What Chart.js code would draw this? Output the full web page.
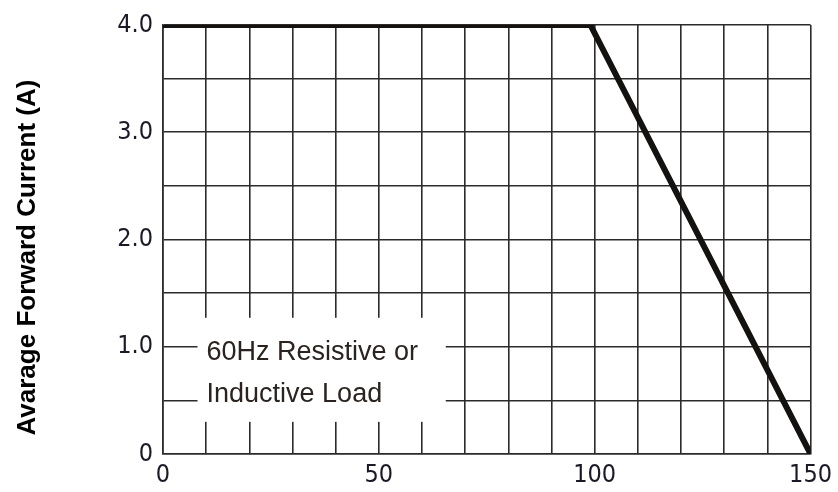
<!DOCTYPE html>
<html>
<head>
<meta charset="utf-8">
<script src="https://cdn.jsdelivr.net/npm/chart.js@4.4.1/dist/chart.umd.min.js"></script>
<style>
  html, body { margin: 0; padding: 0; background: #fff; }
  #wrap { width: 838px; height: 492px; position: relative; }
</style>
</head>
<body>
<div id="wrap"><canvas id="derating"></canvas></div>
<script>
// Derating curve: ambient temp vs. average forward current
const tempPoints = [0, 99, 150];
const currentPoints = [4.0, 4.0, 0];
const xLabelsAt = [0, 50, 100, 150];
const yLabelsAt = [0, 1, 2, 3, 4];
const noteLines = ["60Hz Resistive or", "Inductive Load"];

const tickFont = { family: "'DejaVu Sans Condensed', 'Liberation Sans Narrow', 'Liberation Sans', Arial, sans-serif", size: 25 };

// white box with the load note, sits on top of the grid
const notePlugin = {
  id: "note",
  beforeDatasetsDraw(chart) {
    const { ctx, scales: { x, y } } = chart;
    const left = x.getPixelForValue(8);
    const right = x.getPixelForValue(65.5);
    const top = y.getPixelForValue(1.27);
    const bottom = y.getPixelForValue(0.3);
    ctx.save();
    ctx.fillStyle = "#fff";
    ctx.fillRect(left, top, right - left, bottom - top);
    ctx.fillStyle = "#2a2320";
    ctx.font = "27px 'Liberation Sans Narrow', 'Liberation Sans', Arial, sans-serif";
    ctx.textBaseline = "alphabetic";
    ctx.fillText(noteLines[0], left + 9, y.getPixelForValue(1.0) + 13);
    ctx.fillText(noteLines[1], left + 9, y.getPixelForValue(0.5) + 2);
    ctx.restore();
  }
};

new Chart(document.getElementById("derating"), {
  type: "line",
  data: {
    datasets: [{
      data: tempPoints.map((t, i) => ({ x: t, y: currentPoints[i] })),
      borderColor: "#141210",
      borderWidth: 6,
      pointRadius: 0,
      tension: 0,
      fill: false
    }]
  },
  options: {
    responsive: true,
    maintainAspectRatio: false,
    animation: false,
    layout: { padding: { left: 9, top: 25, right: 23, bottom: 0 } },
    plugins: { legend: { display: false }, tooltip: { enabled: false } },
    scales: {
      x: {
        type: "linear",
        min: 0, max: 150,
        ticks: {
          stepSize: 10,
          autoSkip: false,
          maxRotation: 0,
          padding: 6,
          color: "#1a1a26",
          font: tickFont,
          callback: v => xLabelsAt.includes(v) ? String(v) : ""
        },
        grid: { color: "#2b2b2b", lineWidth: 1.6, drawTicks: false },
        border: { color: "#2b2b2b", width: 1.6 },
        afterFit: s => { s.height = 38; }
      },
      y: {
        min: 0, max: 4,
        ticks: {
          stepSize: 0.5,
          autoSkip: false,
          padding: 10,
          color: "#1a1a26",
          font: tickFont,
          callback: v => yLabelsAt.includes(v) ? (v === 0 ? "0" : v.toFixed(1)) : ""
        },
        grid: { color: "#2b2b2b", lineWidth: 1.6, drawTicks: false },
        border: { color: "#2b2b2b", width: 1.6 },
        title: {
          display: true,
          // trailing no-break spaces nudge the rotated title down a little
          text: "Avarage Forward Current (A)\u00a0\u00a0\u00a0\u00a0\u00a0",
          color: "#000",
          font: { family: "'Liberation Sans', Arial, sans-serif", size: 26, weight: "bold" },
          padding: { top: 3, bottom: 0 }
        },
        afterFit: s => { s.width = 154; }
      }
    }
  },
  plugins: [notePlugin]
});
</script>
</body>
</html>
